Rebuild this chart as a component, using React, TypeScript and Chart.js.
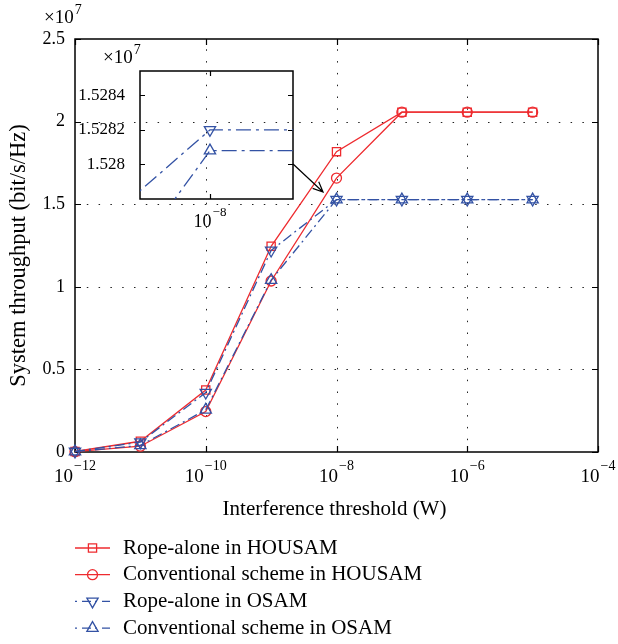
import React, { useEffect, useRef } from 'react';
import { Chart, registerables, LogarithmicScale, LinearScale } from 'chart.js';

Chart.register(...registerables);

// Scales that do not clamp pixels to the int16 range (the inset zooms in very far,
// so neighbouring points lie tens of thousands of pixels away).
class UnclampedLog extends (LogarithmicScale as any) {
  static id = 'logUnclamped';
  getPixelForDecimal(decimal: number) {
    const self = this as any;
    if (self._reversePixels) decimal = 1 - decimal;
    return self._startPixel + decimal * self._length;
  }
}
class UnclampedLinear extends (LinearScale as any) {
  static id = 'linearUnclamped';
  getPixelForDecimal(decimal: number) {
    const self = this as any;
    if (self._reversePixels) decimal = 1 - decimal;
    return self._startPixel + decimal * self._length;
  }
}
Chart.register(UnclampedLog as any, UnclampedLinear as any);

// ---------- data (throughput in units of 10^7 bit/s/Hz) ----------
const THRESHOLDS = [1e-12, 1e-11, 1e-10, 1e-9, 1e-8, 1e-7, 1e-6, 1e-5];
const ROPE_HOUSAM = [0.003, 0.065, 0.375, 1.245, 1.818, 2.057, 2.057, 2.057];
const CONV_HOUSAM = [0.002, 0.035, 0.245, 1.035, 1.658, 2.057, 2.057, 2.057];
const ROPE_OSAM = [0.003, 0.06, 0.36, 1.22, 1.5282, 1.5282, 1.5282, 1.5282];
const CONV_OSAM = [0.002, 0.04, 0.255, 1.04, 1.52808, 1.52808, 1.52808, 1.52808];

const SERIES_LABELS = [
  'Rope-alone in HOUSAM',
  'Conventional scheme in HOUSAM',
  'Rope-alone in OSAM',
  'Conventional scheme in OSAM',
];

const X_TICKS = [1e-12, 1e-10, 1e-8, 1e-6, 1e-4];
const X_TICK_EXPONENTS = ['\u221212', '\u221210', '\u22128', '\u22126', '\u22124'];
const Y_TICKS = [0, 0.5, 1, 1.5, 2, 2.5];
const Y_MIN = 0;
const Y_MAX = 2.5;
const X_MIN = 1e-12;
const X_MAX = 1e-4;
const Y_EXPONENT = '7';

const INSET_X_MIN = 9.9737e-9;
const INSET_X_MAX = 1.00313e-8;
const INSET_X_TICKS = [1e-8];
const INSET_X_TICK_EXPONENTS = ['\u22128'];
const INSET_Y_MIN = 1.5278;
const INSET_Y_MAX = 1.52854;
const INSET_Y_TICKS = [1.528, 1.5282, 1.5284];

// arrow annotation (data units of main chart)
const ARROW_FROM = [Math.pow(10, -8.665), 1.743];
const ARROW_TO = [Math.pow(10, -8.206), 1.574];

const X_TITLE = 'Interference threshold (W)';
const Y_TITLE = 'System throughput (bit/s/Hz)';

// ---------- styles ----------
const RED = '#ee2b2f';
const BLUE = '#3352a4';
const FONT = '"Liberation Serif", "Times New Roman", serif';
const MAIN_DASH = [10, 4, 2, 4];
const INSET_DASH = [15, 5, 3, 5];

const STYLES = [
  { color: RED, marker: 'rect', radius: 5.8, rotation: 0, dash: [] as number[] },
  { color: RED, marker: 'circle', radius: 5, rotation: 0, dash: [] as number[] },
  { color: BLUE, marker: 'triangle', radius: 6.5, rotation: 180, dash: MAIN_DASH },
  { color: BLUE, marker: 'triangle', radius: 6.5, rotation: 0, dash: MAIN_DASH },
];
const SERIES_DATA = [ROPE_HOUSAM, CONV_HOUSAM, ROPE_OSAM, CONV_OSAM];

function drawMarker(ctx: CanvasRenderingContext2D, style: string, x: number, y: number, r: number, rotDeg: number) {
  ctx.beginPath();
  if (style === 'rect') {
    const s = r * Math.SQRT1_2;
    ctx.rect(x - s, y - s, 2 * s, 2 * s);
  } else if (style === 'circle') {
    ctx.arc(x, y, r, 0, Math.PI * 2);
  } else {
    let rad = (rotDeg * Math.PI) / 180;
    ctx.moveTo(x + Math.sin(rad) * r, y - Math.cos(rad) * r);
    rad += (2 * Math.PI) / 3;
    ctx.lineTo(x + Math.sin(rad) * r, y - Math.cos(rad) * r);
    rad += (2 * Math.PI) / 3;
    ctx.lineTo(x + Math.sin(rad) * r, y - Math.cos(rad) * r);
    ctx.closePath();
  }
  ctx.stroke();
}

function drawPower(ctx: CanvasRenderingContext2D, cx: number, cy: number, base: string, exp: string, baseSize: number, expSize: number, rise: number, align: 'center' | 'left') {
  ctx.textBaseline = 'middle';
  ctx.textAlign = 'left';
  ctx.font = `${baseSize}px ${FONT}`;
  const wb = ctx.measureText(base).width;
  ctx.font = `${expSize}px ${FONT}`;
  const we = ctx.measureText(exp).width;
  const x0 = align === 'center' ? cx - (wb + we + 1) / 2 : cx;
  ctx.font = `${baseSize}px ${FONT}`;
  ctx.fillText(base, x0, cy);
  ctx.font = `${expSize}px ${FONT}`;
  ctx.fillText(exp, x0 + wb + 1, cy - rise);
}

function drawFrameAndTicks(ctx: CanvasRenderingContext2D, a: any, xs: number[], ys: number[], tick: number) {
  ctx.save();
  ctx.setLineDash([]);
  ctx.strokeStyle = '#000';
  ctx.lineWidth = 1.5;
  ctx.strokeRect(a.left, a.top, a.right - a.left, a.bottom - a.top);
  ctx.lineWidth = 1.2;
  ctx.beginPath();
  xs.forEach((px) => {
    ctx.moveTo(px, a.bottom);
    ctx.lineTo(px, a.bottom - tick);
    ctx.moveTo(px, a.top);
    ctx.lineTo(px, a.top + tick);
  });
  ys.forEach((py) => {
    ctx.moveTo(a.left, py);
    ctx.lineTo(a.left + tick, py);
    ctx.moveTo(a.right, py);
    ctx.lineTo(a.right - tick, py);
  });
  ctx.stroke();
  ctx.restore();
}

const mainPlugin = {
  id: 'mainDecor',
  beforeDatasetsDraw(chart: any) {
    const { ctx, chartArea: a, scales } = chart;
    const x = scales.x;
    const y = scales.y;
    const xs = X_TICKS.map((v) => Math.round(x.getPixelForValue(v)) + 0.5);
    const ys = Y_TICKS.map((v) => Math.round(y.getPixelForValue(v)) + 0.5);
    ctx.save();
    ctx.strokeStyle = '#222';
    ctx.lineWidth = 1;
    ctx.setLineDash([1.5, 10.3]);
    ctx.beginPath();
    xs.forEach((px) => {
      if (px > a.left + 2 && px < a.right - 2) {
        ctx.moveTo(px, a.bottom);
        ctx.lineTo(px, a.top);
      }
    });
    ys.forEach((py) => {
      if (py > a.top + 2 && py < a.bottom - 2) {
        ctx.moveTo(a.left, py);
        ctx.lineTo(a.right, py);
      }
    });
    ctx.stroke();
    ctx.restore();
    drawFrameAndTicks(ctx, a, xs, ys, 6);
  },
  afterDraw(chart: any) {
    const { ctx, chartArea: a, scales } = chart;
    const x = scales.x;
    const y = scales.y;
    ctx.save();
    ctx.fillStyle = '#000';
    X_TICKS.forEach((v, i) => {
      drawPower(ctx, x.getPixelForValue(v), a.bottom + 25, '10', X_TICK_EXPONENTS[i], 19, 14, 11, 'center');
    });
    drawPower(ctx, a.left - 31, a.top - 21, '\u00d710', Y_EXPONENT, 19, 14, 8, 'left');
    ctx.font = `21px ${FONT}`;
    ctx.textAlign = 'center';
    ctx.textBaseline = 'middle';
    ctx.fillText(X_TITLE, (a.left + a.right) / 2 - 2, a.bottom + 57);
    ctx.save();
    ctx.translate(a.left - 56, (a.top + a.bottom) / 2 + 10);
    ctx.rotate(-Math.PI / 2);
    ctx.font = `22.5px ${FONT}`;
    ctx.fillText(Y_TITLE, 0, 0);
    ctx.restore();
    // arrow
    const x1 = x.getPixelForValue(ARROW_FROM[0]);
    const y1 = y.getPixelForValue(ARROW_FROM[1]);
    const x2 = x.getPixelForValue(ARROW_TO[0]);
    const y2 = y.getPixelForValue(ARROW_TO[1]);
    const ang = Math.atan2(y2 - y1, x2 - x1);
    ctx.strokeStyle = '#000';
    ctx.lineWidth = 1.2;
    ctx.setLineDash([]);
    ctx.beginPath();
    ctx.moveTo(x1, y1);
    ctx.lineTo(x2, y2);
    const hl = 11;
    const ha = 0.42;
    ctx.moveTo(x2 - hl * Math.cos(ang - ha), y2 - hl * Math.sin(ang - ha));
    ctx.lineTo(x2, y2);
    ctx.lineTo(x2 - hl * Math.cos(ang + ha), y2 - hl * Math.sin(ang + ha));
    ctx.stroke();
    // legend
    const lx0 = a.left;
    const lx1 = a.left + 35;
    const ly0 = 548;
    const lstep = 26.7;
    SERIES_LABELS.forEach((label, i) => {
      const st = STYLES[i];
      const ly = ly0 + i * lstep;
      ctx.strokeStyle = st.color;
      ctx.lineWidth = 1.3;
      ctx.setLineDash(st.dash.length ? [2, 5, 9, 4] : []);
      ctx.beginPath();
      ctx.moveTo(lx0, ly);
      ctx.lineTo(lx1, ly);
      ctx.stroke();
      ctx.setLineDash([]);
      drawMarker(ctx, st.marker, (lx0 + lx1) / 2, ly, st.radius, st.rotation);
      ctx.fillStyle = '#000';
      ctx.font = `21px ${FONT}`;
      ctx.textAlign = 'left';
      ctx.textBaseline = 'middle';
      ctx.fillText(label, a.left + 48, ly);
    });
    ctx.restore();
  },
};

const insetPlugin = {
  id: 'insetDecor',
  beforeDatasetsDraw(chart: any) {
    const { ctx, chartArea: a, scales } = chart;
    const xs = INSET_X_TICKS.map((v) => Math.round(scales.x.getPixelForValue(v)) + 0.5);
    const ys = INSET_Y_TICKS.map((v) => Math.round(scales.y.getPixelForValue(v)) + 0.5);
    drawFrameAndTicks(ctx, a, xs, ys, 5);
  },
  afterDraw(chart: any) {
    const { ctx, chartArea: a, scales } = chart;
    ctx.save();
    ctx.fillStyle = '#000';
    INSET_X_TICKS.forEach((v, i) => {
      drawPower(ctx, scales.x.getPixelForValue(v), a.bottom + 23, '10', INSET_X_TICK_EXPONENTS[i], 18, 13, 9, 'center');
    });
    drawPower(ctx, a.left - 37, a.top - 13, '\u00d710', Y_EXPONENT, 19, 14, 8, 'left');
    ctx.restore();
  },
};

function makeDatasets(indices: number[], dash: number[], clip: any) {
  return indices.map((i) => {
    const st = STYLES[i];
    return {
      label: SERIES_LABELS[i],
      data: THRESHOLDS.map((t, k) => ({ x: t, y: SERIES_DATA[i][k] })),
      borderColor: st.color,
      backgroundColor: 'rgba(0,0,0,0)',
      borderWidth: 1.3,
      borderDash: st.dash.length ? dash : [],
      pointStyle: st.marker,
      pointRadius: st.radius,
      pointRotation: st.rotation,
      pointBorderWidth: 1.3,
      pointBorderColor: st.color,
      pointBackgroundColor: 'rgba(0,0,0,0)',
      tension: 0,
      fill: false,
      clip,
      order: st.color === BLUE ? 1 : 2,
    };
  });
}

export default function App() {
  const mainRef = useRef<HTMLCanvasElement>(null);
  const insetRef = useRef<HTMLCanvasElement>(null);

  useEffect(() => {
    const main = new Chart(mainRef.current as HTMLCanvasElement, {
      type: 'line',
      data: { datasets: makeDatasets([0, 1, 2, 3], MAIN_DASH, false) as any },
      options: {
        animation: false,
        responsive: false,
        devicePixelRatio: 1,
        layout: { padding: { left: 0, right: 20, top: 39, bottom: 132 } },
        plugins: { legend: { display: false }, tooltip: { enabled: false }, title: { display: false } },
        scales: {
          x: {
            type: 'logarithmic',
            min: X_MIN,
            max: X_MAX,
            grid: { display: false, drawTicks: false },
            border: { display: false },
            ticks: { display: false },
            afterBuildTicks: (s: any) => {
              s.ticks = X_TICKS.map((v) => ({ value: v }));
            },
            afterFit: (s: any) => {
              s.height = 60;
            },
          },
          y: {
            type: 'linear',
            min: Y_MIN,
            max: Y_MAX,
            grid: { display: false, drawTicks: false },
            border: { display: false },
            ticks: {
              stepSize: 0.5,
              color: '#000',
              padding: 10,
              font: { family: FONT, size: 18 },
              callback: (v: any) => String(v),
            },
            afterBuildTicks: (s: any) => {
              s.ticks = Y_TICKS.map((v) => ({ value: v }));
            },
            afterFit: (s: any) => {
              s.width = 75;
            },
          },
        },
      } as any,
      plugins: [mainPlugin],
    });

    const inset = new Chart(insetRef.current as HTMLCanvasElement, {
      type: 'line',
      data: { datasets: makeDatasets([2, 3], INSET_DASH, 0) as any },
      options: {
        animation: false,
        responsive: false,
        devicePixelRatio: 1,
        layout: { padding: { left: 0, right: 17, top: 31, bottom: 0 } },
        plugins: { legend: { display: false }, tooltip: { enabled: false }, title: { display: false } },
        scales: {
          x: {
            type: 'logUnclamped',
            min: INSET_X_MIN,
            max: INSET_X_MAX,
            grid: { display: false, drawTicks: false },
            border: { display: false },
            ticks: { display: false },
            afterBuildTicks: (s: any) => {
              s.ticks = INSET_X_TICKS.map((v) => ({ value: v }));
            },
            afterFit: (s: any) => {
              s.height = 41;
            },
          },
          y: {
            type: 'linearUnclamped',
            min: INSET_Y_MIN,
            max: INSET_Y_MAX,
            grid: { display: false, drawTicks: false },
            border: { display: false },
            ticks: {
              color: '#000',
              padding: 15,
              font: { family: FONT, size: 17 },
              callback: (v: any) => String(Number(Number(v).toFixed(4))),
            },
            afterBuildTicks: (s: any) => {
              s.ticks = INSET_Y_TICKS.map((v) => ({ value: v }));
            },
            afterFit: (s: any) => {
              s.width = 80;
            },
          },
        },
      } as any,
      plugins: [insetPlugin],
    });

    return () => {
      main.destroy();
      inset.destroy();
    };
  }, []);

  return (
    <div style={{ position: 'absolute', left: 0, top: 0, width: 618, height: 644, background: '#fff' }}>
      <canvas ref={mainRef} width={618} height={644} style={{ position: 'absolute', left: 0, top: 0 }} />
      <canvas ref={insetRef} width={250} height={200} style={{ position: 'absolute', left: 60, top: 40 }} />
    </div>
  );
}
